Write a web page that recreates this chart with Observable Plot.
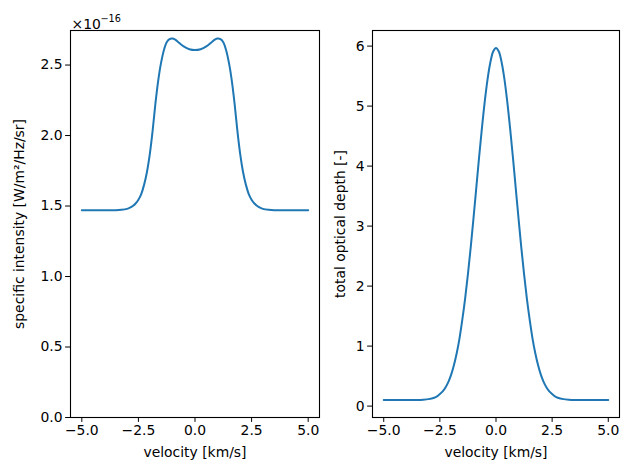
<!DOCTYPE html>
<html>
<head>
<meta charset="utf-8">
<script src="https://cdn.jsdelivr.net/npm/d3@7"></script>
<script src="https://cdn.jsdelivr.net/npm/@observablehq/plot@0.6"></script>
<style>
  body { margin: 0; background: white; }
  #wrap { position: relative; width: 629px; height: 470px; background: white; }
  #wrap > div { position: absolute; top: 0; }
</style>
</head>
<body>
<div id="wrap"><div id="left" style="left:0"></div><div id="right" style="left:330px"></div></div>
<script>
// velocity grid [km/s] for the intensity profile
const velocity = [-5, -4.5, -4, -3.5, -3.25, -3, -2.875, -2.75, -2.625, -2.5, -2.375, -2.25, -2.125, -2, -1.875, -1.75, -1.625, -1.5, -1.375, -1.25, -1.125, -1, -0.875, -0.75, -0.5, -0.25, 0,
                  0.25, 0.5, 0.75, 0.875, 1, 1.125, 1.25, 1.375, 1.5, 1.625, 1.75, 1.875, 2, 2.125, 2.25, 2.375, 2.5, 2.625, 2.75, 2.875, 3, 3.25, 3.5, 4, 4.5, 5];
// specific intensity, in units of 1e-16 W/m^2/Hz/sr
const intensity = [1.470, 1.470, 1.470, 1.470, 1.473, 1.480, 1.488, 1.500, 1.518, 1.545, 1.585, 1.650, 1.740, 1.865, 2.030, 2.225, 2.390, 2.515, 2.605, 2.662, 2.684, 2.688, 2.680, 2.664, 2.632, 2.612, 2.606,
                   2.612, 2.632, 2.664, 2.680, 2.688, 2.684, 2.662, 2.605, 2.515, 2.390, 2.225, 2.030, 1.865, 1.740, 1.650, 1.585, 1.545, 1.518, 1.500, 1.488, 1.480, 1.473, 1.470, 1.470, 1.470, 1.470];
// velocity grid [km/s] for the optical depth profile
const tauVelocity = [-5, -4.5, -4, -3.5, -3.25, -3, -2.75, -2.625, -2.5, -2.375, -2.25, -2.125, -2, -1.875, -1.75, -1.625, -1.5, -1.375, -1.25, -1.125, -1, -0.875, -0.75, -0.625, -0.5, -0.375, -0.25, -0.125, 0,
                     0.125, 0.25, 0.375, 0.5, 0.625, 0.75, 0.875, 1, 1.125, 1.25, 1.375, 1.5, 1.625, 1.75, 1.875, 2, 2.125, 2.25, 2.375, 2.5, 2.625, 2.75, 3, 3.25, 3.5, 4, 4.5, 5];
// total optical depth [-]
const opticalDepth = [0.10, 0.10, 0.10, 0.102, 0.106, 0.116, 0.14, 0.163, 0.20, 0.244, 0.31, 0.40, 0.52, 0.68, 0.88, 1.13, 1.44, 1.79, 2.20, 2.65, 3.14, 3.65, 4.16, 4.64, 5.08, 5.45, 5.73, 5.91, 5.97,
                      5.91, 5.73, 5.45, 5.08, 4.64, 4.16, 3.65, 3.14, 2.65, 2.20, 1.79, 1.44, 1.13, 0.88, 0.68, 0.52, 0.40, 0.31, 0.244, 0.20, 0.163, 0.14, 0.116, 0.106, 0.102, 0.10, 0.10, 0.10];
const xTicks = [-5, -2.5, 0, 2.5, 5];
const yTicksLeft = [0, 0.5, 1.0, 1.5, 2.0, 2.5];
const yTicksRight = [0, 1, 2, 3, 4, 5, 6];
const xLabel = "velocity [km/s]";
const yLabelLeft = "specific intensity [W/m²/Hz/sr]";
const yLabelRight = "total optical depth [-]";
const offsetBase = "×10";
const offsetExponent = "−16";

const intensityData = velocity.map((v, i) => ({v, I: intensity[i]}));
const tauData = tauVelocity.map((v, i) => ({v, tau: opticalDepth[i]}));

const style = {fontFamily: "DejaVu Sans", fontSize: "13.9px", color: "black", background: "white", overflow: "visible"};
const lineColor = "#1f77b4";

const left = Plot.plot({
  width: 330, height: 470,
  marginLeft: 70, marginRight: 11, marginTop: 30, marginBottom: 53,
  style,
  x: {domain: [-5.5, 5.5]},
  y: {domain: [0, 2.745]},
  marks: [
    Plot.frame({stroke: "black", strokeWidth: 1.1}),
    Plot.axisX({ticks: xTicks, tickFormat: d3.format(".1f"), tickSize: 4.9, tickPadding: 3, label: xLabel, labelAnchor: "center", labelArrow: "none", labelOffset: 39}),
    Plot.axisY({ticks: yTicksLeft, tickFormat: d3.format(".1f"), tickSize: 4.9, tickPadding: 3, label: yLabelLeft, labelAnchor: "center", labelArrow: "none", labelOffset: 56}),
    Plot.line(intensityData, {x: "v", y: "I", stroke: lineColor, strokeWidth: 2, curve: "catmull-rom"}),
    Plot.text([offsetBase], {frameAnchor: "top-left", text: d => d, dy: -11, dx: 1, textAnchor: "start", fontSize: 13.9}),
    Plot.text([offsetExponent], {frameAnchor: "top-left", text: d => d, dy: -15, dx: 30, textAnchor: "start", fontSize: 9.7})
  ]
});
document.getElementById("left").appendChild(left);

const right = Plot.plot({
  width: 299, height: 470,
  marginLeft: 42, marginRight: 10, marginTop: 30, marginBottom: 53,
  style,
  x: {domain: [-5.5, 5.5]},
  y: {domain: [-0.19, 6.26]},
  marks: [
    Plot.frame({stroke: "black", strokeWidth: 1.1}),
    Plot.axisX({ticks: xTicks, tickFormat: d3.format(".1f"), tickSize: 4.9, tickPadding: 3, label: xLabel, labelAnchor: "center", labelArrow: "none", labelOffset: 39}),
    Plot.axisY({ticks: yTicksRight, tickFormat: d3.format("d"), tickSize: 4.9, tickPadding: 3, label: yLabelRight, labelAnchor: "center", labelArrow: "none", labelOffset: 37}),
    Plot.line(tauData, {x: "v", y: "tau", stroke: lineColor, strokeWidth: 2, curve: "catmull-rom"})
  ]
});
document.getElementById("right").appendChild(right);
</script>
</body>
</html>
